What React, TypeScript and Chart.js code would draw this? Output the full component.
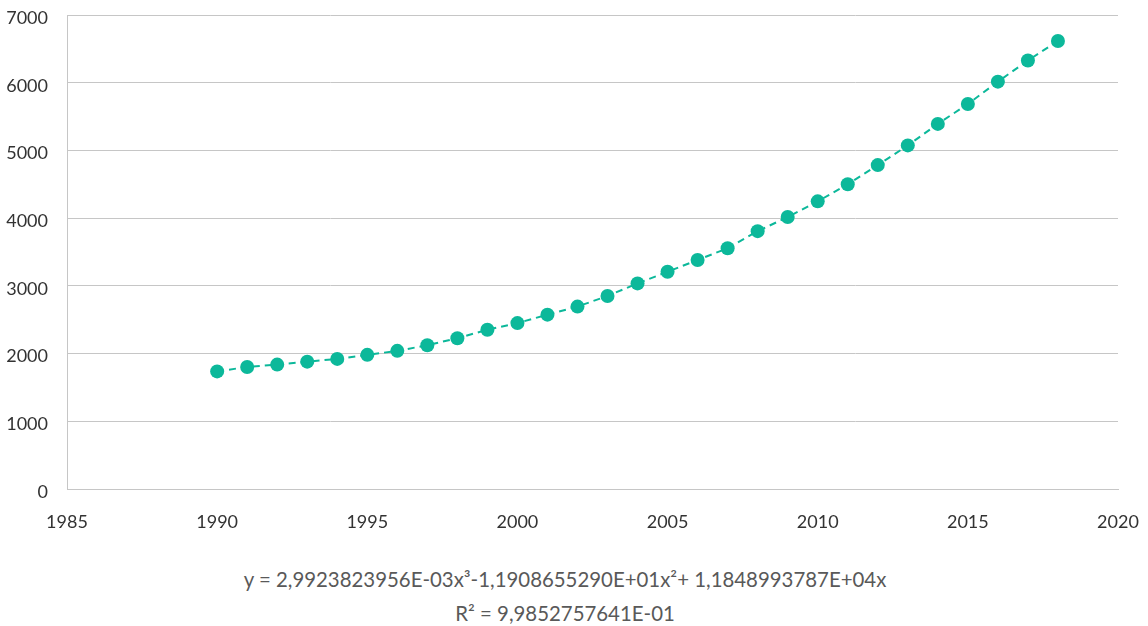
import React, { useEffect, useRef } from "react";
import { Chart, registerables } from "chart.js";

Chart.register(...registerables);

const years = [1990, 1991, 1992, 1993, 1994, 1995, 1996, 1997, 1998, 1999, 2000, 2001, 2002, 2003, 2004, 2005, 2006, 2007, 2008, 2009, 2010, 2011, 2012, 2013, 2014, 2015, 2016, 2017, 2018];
const values = [1737, 1802, 1837, 1881, 1921, 1981, 2040, 2123, 2227, 2352, 2450, 2575, 2694, 2851, 3036, 3208, 3382, 3556, 3808, 4016, 4248, 4501, 4783, 5074, 5392, 5685, 6016, 6328, 6617];
const equationText = "y = 2,9923823956E-03x³-1,1908655290E+01x²+ 1,1848993787E+04x";
const r2Text = "R² = 9,9852757641E-01";

const COLOR = "#0cb89a";
const GRID = "#c6c6c6";
const FONT = "Lato, 'Noto Sans', sans-serif";

export default function App() {
  const ref = useRef<HTMLCanvasElement | null>(null);

  useEffect(() => {
    if (!ref.current) return;
    const chart = new Chart(ref.current, {
      type: "scatter",
      data: {
        datasets: [
          {
            data: years.map((y, i) => ({ x: y, y: values[i] })),
            showLine: true,
            borderColor: COLOR,
            borderWidth: 2,
            borderDash: [7, 5],
            backgroundColor: COLOR,
            pointBackgroundColor: COLOR,
            pointBorderColor: COLOR,
            pointRadius: 7,
            pointBorderWidth: 0,
          },
        ],
      },
      options: {
        animation: false,
        responsive: false,
        maintainAspectRatio: false,
        layout: { autoPadding: false, padding: { top: 15, right: 30, bottom: 0, left: 0 } },
        plugins: { legend: { display: false }, tooltip: { enabled: false } },
        scales: {
          x: {
            type: "linear",
            min: 1985,
            max: 2020,
            afterFit: (s: any) => {
              s.height = 51;
              s.paddingLeft = 0;
              s.paddingRight = 0;
            },
            ticks: {
              stepSize: 5,
              padding: 22,
              color: "#333",
              font: { family: FONT, size: 18 },
              callback: (v: any) => String(v),
            },
            grid: { display: false, drawTicks: false },
            border: { display: true, color: GRID, width: 1 },
          },
          y: {
            min: 0,
            max: 7000,
            afterFit: (s: any) => {
              s.width = 67;
              s.paddingTop = 0;
              s.paddingBottom = 0;
            },
            ticks: {
              stepSize: 1000,
              padding: 19,
              labelOffset: 3,
              color: "#333",
              font: { family: FONT, size: 18 },
              callback: (v: any) => String(v),
            },
            grid: { color: GRID, lineWidth: 1, drawTicks: false },
            border: { display: true, color: GRID, width: 1 },
          },
        },
      },
    });
    return () => chart.destroy();
  }, []);

  const textStyle: React.CSSProperties = {
    position: "absolute",
    left: 0,
    width: 1130,
    textAlign: "center",
    fontFamily: FONT,
    fontSize: 20.4,
    lineHeight: "24px",
    color: "#595959",
    whiteSpace: "nowrap",
  };

  return (
    <div style={{ position: "absolute", left: 0, top: 0, width: 1148, height: 626 }}>
      <canvas ref={ref} width={1148} height={540} style={{ display: "block", width: 1148, height: 540 }} />
      <div style={{ ...textStyle, top: 567 }}>{equationText}</div>
      <div style={{ ...textStyle, top: 601 }}>{r2Text}</div>
    </div>
  );
}
